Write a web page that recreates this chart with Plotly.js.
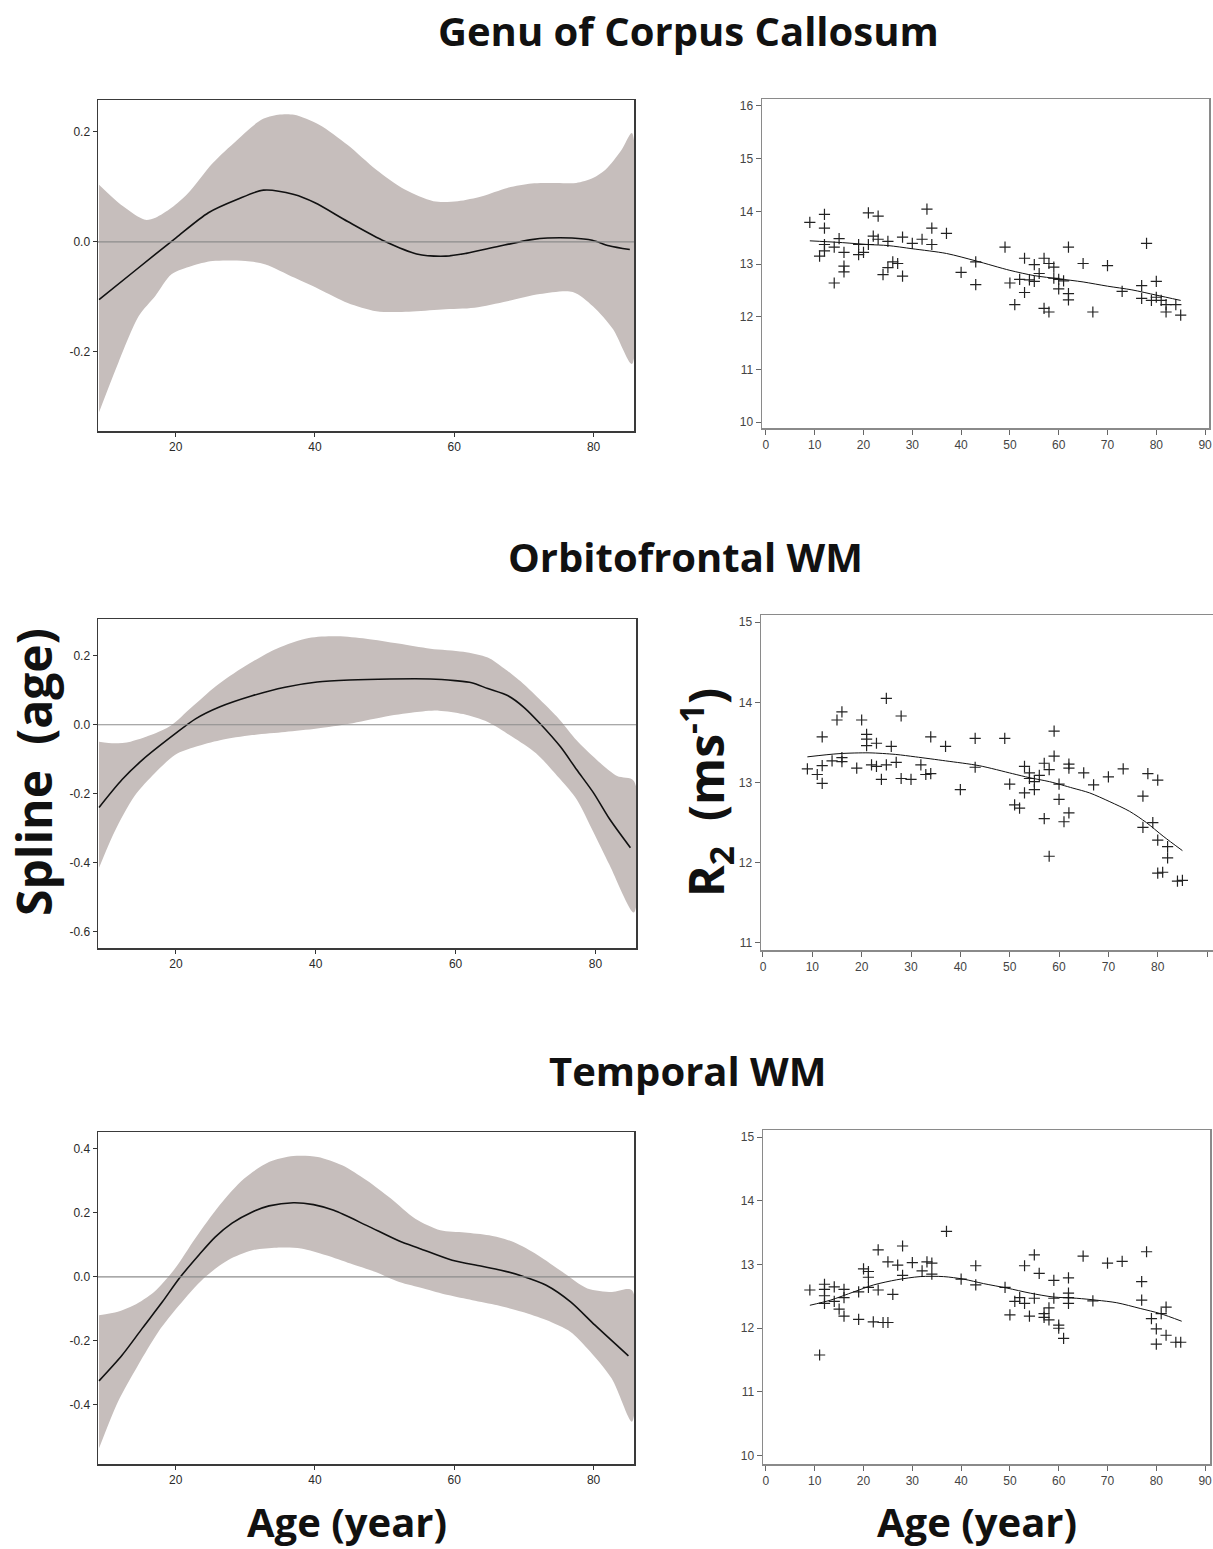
<!DOCTYPE html>
<html>
<head>
<meta charset="utf-8">
<script src="https://cdn.plot.ly/plotly-3.0.1.min.js"></script>
<style>html,body{margin:0;padding:0;background:#fff;}#chart{width:1213px;height:1549px;}</style>
</head>
<body>
<div id="chart"></div>
<script>
// ---------- Panel titles ----------
const panelTitles = ["Genu of Corpus Callosum", "Orbitofrontal WM", "Temporal WM"];
const splineTitle = "Spline  (age)";
const r2Title = "R<sub>2</sub>  (ms<sup>-1</sup>)";
const ageTitle = "Age (year)";

// ---------- Left panels: spline(age) with confidence band ----------
const genuCurveX = [9, 14.1, 20, 24.7, 28.8, 32.6, 37, 40, 44.7, 50, 54.6, 58.8, 61.7, 66.4, 71.1, 73.4, 76.9, 79.8, 82.2, 85.2];
const genuCurveY = [-0.105, -0.053, 0.007, 0.053, 0.077, 0.094, 0.086, 0.071, 0.037, 0.001, -0.022, -0.026, -0.021, -0.008, 0.004, 0.007, 0.007, 0.003, -0.007, -0.014];
const genuUpX = [9, 12.4, 15.6, 17.1, 19.4, 21.8, 25.3, 28.8, 32.3, 34.7, 37, 40.6, 44.7, 48.8, 52.9, 57, 60.5, 64, 67.6, 71.1, 74.6, 77.5, 79.9, 81.7, 84, 85.5];
const genuUpY = [0.104, 0.065, 0.040, 0.044, 0.062, 0.089, 0.143, 0.185, 0.222, 0.231, 0.231, 0.213, 0.176, 0.131, 0.095, 0.074, 0.074, 0.083, 0.098, 0.106, 0.107, 0.107, 0.116, 0.131, 0.167, 0.198];
const genuLoX = [9, 11.8, 14.7, 17.1, 19.4, 22.3, 25.3, 30, 32.9, 37, 40.6, 44.7, 48.8, 53.5, 58.2, 62.9, 67.6, 72.3, 77, 79.9, 82.8, 85.5];
const genuLoY = [-0.310, -0.219, -0.135, -0.098, -0.059, -0.044, -0.035, -0.035, -0.041, -0.065, -0.086, -0.111, -0.126, -0.127, -0.123, -0.120, -0.108, -0.095, -0.091, -0.117, -0.159, -0.222];

const orbCurveX = [9, 12.3, 15.2, 19.9, 22.8, 26.3, 30.9, 35.6, 40.2, 44.8, 50.6, 56.4, 59.9, 62.3, 64.6, 67.5, 69.8, 72.1, 75, 77.3, 79.7, 82, 85];
const orbCurveY = [-0.24, -0.159, -0.102, -0.026, 0.017, 0.052, 0.084, 0.109, 0.124, 0.130, 0.133, 0.133, 0.128, 0.122, 0.105, 0.084, 0.050, 0.003, -0.064, -0.130, -0.197, -0.273, -0.357];
const orbUpX = [9, 11.2, 13.5, 16.4, 19.3, 22.2, 25.7, 29.8, 34.4, 39, 43.1, 47.2, 51.8, 56.4, 61.1, 64.6, 66.9, 69.8, 72.7, 75, 77.3, 80.2, 83.1, 85.5];
const orbUpY = [-0.049, -0.054, -0.049, -0.030, -0.002, 0.050, 0.112, 0.169, 0.221, 0.252, 0.257, 0.250, 0.236, 0.221, 0.212, 0.195, 0.164, 0.117, 0.060, 0.012, -0.045, -0.102, -0.149, -0.163];
const orbLoX = [9, 11.2, 14.1, 17, 19.9, 22.8, 26.3, 30.9, 35.6, 40.2, 44.8, 49.5, 54.1, 57.6, 61.1, 64.6, 68.1, 71.5, 75, 77.3, 79.7, 82, 85.5];
const orbLoY = [-0.415, -0.311, -0.206, -0.140, -0.087, -0.064, -0.045, -0.030, -0.021, -0.011, 0.003, 0.022, 0.036, 0.041, 0.031, 0.008, -0.035, -0.083, -0.159, -0.216, -0.311, -0.406, -0.545];

const tempCurveX = [9, 12.3, 15.2, 18.1, 20.5, 23.4, 25.7, 28.1, 31, 33.4, 36.9, 39.8, 42.7, 47.4, 52.1, 55, 59.7, 63.8, 66.7, 69.7, 73.2, 76.7, 80.2, 85];
const tempCurveY = [-0.325, -0.245, -0.161, -0.078, -0.005, 0.070, 0.125, 0.168, 0.203, 0.222, 0.232, 0.226, 0.208, 0.161, 0.112, 0.089, 0.052, 0.034, 0.021, 0.003, -0.026, -0.078, -0.151, -0.247];
const tempUpX = [9, 11.7, 14, 16.9, 19.9, 22.8, 26.3, 29.8, 33.4, 36.9, 40.4, 43.9, 47.4, 50.9, 54.4, 58, 61.5, 65, 68.5, 72, 75.5, 79.1, 82.6, 85.5];
const tempUpY = [-0.12, -0.109, -0.089, -0.047, 0.026, 0.12, 0.224, 0.307, 0.359, 0.378, 0.375, 0.349, 0.302, 0.245, 0.182, 0.146, 0.139, 0.130, 0.109, 0.068, 0.016, -0.036, -0.047, -0.042];
const tempLoX = [9, 11.7, 14.6, 17.5, 20.5, 24, 27.5, 31, 34.5, 38, 41.6, 45.1, 48.6, 52.1, 55.6, 59.1, 62.6, 66.2, 69.7, 73.2, 76.7, 79.1, 82.6, 85.5];
const tempLoY = [-0.536, -0.391, -0.276, -0.172, -0.089, -0.005, 0.052, 0.083, 0.091, 0.089, 0.068, 0.042, 0.016, -0.016, -0.036, -0.057, -0.073, -0.089, -0.109, -0.135, -0.172, -0.224, -0.318, -0.453];

// ---------- Right panels: R2 scatter with fitted line ----------
const genuAge = [9, 11, 12, 12, 12, 12, 14, 14, 15, 16, 16, 16, 19, 19, 20, 21, 21, 22, 23, 23, 24, 25, 25, 26, 27, 28, 28, 30, 32, 33, 34, 34, 37, 40, 43, 43, 49, 50, 51, 52, 53, 53, 54, 55, 55, 56, 57, 57, 58, 58, 59, 59, 60, 60, 61, 62, 62, 62, 65, 67, 70, 73, 77, 77, 78, 79, 80, 80, 81, 82, 82, 84, 85];
const genuR2 = [13.79, 13.15, 13.94, 13.68, 13.37, 13.25, 12.64, 13.32, 13.48, 13.22, 12.96, 12.85, 13.37, 13.18, 13.22, 13.97, 13.37, 13.53, 13.47, 13.91, 12.80, 13.43, 12.93, 13.04, 13.01, 13.51, 12.77, 13.39, 13.47, 14.04, 13.68, 13.37, 13.58, 12.84, 13.04, 12.61, 13.32, 12.64, 12.23, 12.71, 13.11, 12.46, 12.70, 12.99, 12.67, 12.82, 13.11, 12.16, 13.01, 12.09, 12.94, 12.73, 12.71, 12.53, 12.68, 13.32, 12.44, 12.32, 13.01, 12.09, 12.97, 12.48, 12.59, 12.35, 13.39, 12.31, 12.67, 12.37, 12.31, 12.23, 12.09, 12.23, 12.03];
const genuFitX = [9, 15, 21, 25, 30, 37, 43, 50, 55, 60, 65, 70, 75, 80, 85];
const genuFitY = [13.44, 13.41, 13.37, 13.35, 13.29, 13.20, 13.06, 12.88, 12.78, 12.72, 12.66, 12.58, 12.51, 12.41, 12.31];

const orbAge = [9, 11, 12, 12, 12, 14, 15, 16, 16, 16, 19, 20, 21, 21, 21, 22, 23, 23, 24, 25, 25, 26, 27, 28, 28, 30, 32, 33, 34, 34, 37, 40, 43, 43, 49, 50, 51, 52, 53, 53, 54, 54, 55, 55, 56, 57, 57, 58, 58, 59, 59, 60, 60, 61, 62, 62, 62, 65, 67, 70, 73, 77, 77, 78, 79, 80, 80, 80, 81, 82, 82, 84, 85];
const orbR2 = [13.17, 13.10, 13.57, 13.21, 12.99, 13.27, 13.78, 13.88, 13.31, 13.26, 13.18, 13.78, 13.60, 13.54, 13.46, 13.22, 13.49, 13.20, 13.04, 14.05, 13.22, 13.45, 13.25, 13.83, 13.05, 13.04, 13.22, 13.10, 13.57, 13.11, 13.45, 12.91, 13.55, 13.19, 13.55, 12.98, 12.72, 12.68, 13.20, 12.87, 13.12, 13.05, 13.01, 12.91, 13.09, 13.24, 12.55, 13.16, 12.08, 13.64, 13.33, 12.98, 12.79, 12.51, 13.23, 13.18, 12.62, 13.12, 12.97, 13.07, 13.17, 12.83, 12.44, 13.11, 12.50, 13.03, 12.28, 11.87, 11.88, 12.20, 12.06, 11.77, 11.78];
const orbFitX = [9, 15.4, 21.5, 26.9, 30.9, 37, 43.8, 50.6, 54, 58.1, 62.8, 66.2, 70.3, 74.3, 77.7, 81.1, 85];
const orbFitY = [13.32, 13.36, 13.37, 13.35, 13.32, 13.27, 13.21, 13.11, 13.06, 13.01, 12.93, 12.87, 12.76, 12.64, 12.50, 12.33, 12.15];

const tempAge = [9, 11, 12, 12, 12, 12, 14, 14, 15, 16, 16, 16, 19, 19, 20, 21, 21, 21, 22, 23, 23, 24, 25, 25, 26, 27, 28, 28, 30, 32, 33, 34, 34, 37, 40, 43, 43, 49, 50, 51, 52, 53, 53, 54, 55, 55, 56, 57, 57, 58, 58, 59, 59, 60, 60, 61, 62, 62, 62, 62, 65, 67, 70, 73, 77, 77, 78, 79, 80, 80, 81, 82, 82, 84, 85];
const tempR2 = [12.60, 11.58, 12.69, 12.61, 12.51, 12.39, 12.65, 12.42, 12.30, 12.61, 12.48, 12.19, 12.57, 12.14, 12.93, 12.89, 12.80, 12.64, 12.10, 13.23, 12.60, 12.09, 12.09, 13.04, 12.53, 12.99, 13.29, 12.83, 13.03, 12.90, 13.04, 13.02, 12.85, 13.52, 12.77, 12.98, 12.68, 12.64, 12.21, 12.42, 12.48, 12.98, 12.39, 12.19, 13.15, 12.47, 12.86, 12.23, 12.17, 12.32, 12.13, 12.75, 12.47, 12.05, 12.00, 11.84, 12.79, 12.55, 12.48, 12.39, 13.13, 12.43, 13.02, 13.05, 12.73, 12.44, 13.20, 12.15, 11.99, 11.75, 12.23, 12.33, 11.89, 11.78, 11.78];
const tempFitX = [9, 13.2, 18, 22.1, 26.8, 31.6, 36.4, 40.5, 44.6, 49.4, 54.2, 58.9, 63.7, 67.8, 71.9, 76.7, 80.8, 85.2];
const tempFitY = [12.36, 12.44, 12.57, 12.68, 12.76, 12.81, 12.81, 12.77, 12.70, 12.63, 12.55, 12.49, 12.47, 12.44, 12.40, 12.31, 12.23, 12.11];

// ---------- Tick values / labels ----------
const leftXTicks = [20, 40, 60, 80];
const rightXTicks = [0, 10, 20, 30, 40, 50, 60, 70, 80, 90];
const genuLeftYTicks = [-0.2, 0, 0.2];
const genuLeftYLabels = ["-0.2", "0.0", "0.2"];
const orbLeftYTicks = [-0.6, -0.4, -0.2, 0, 0.2];
const orbLeftYLabels = ["-0.6", "-0.4", "-0.2", "0.0", "0.2"];
const tempLeftYTicks = [-0.4, -0.2, 0, 0.2, 0.4];
const tempLeftYLabels = ["-0.4", "-0.2", "0.0", "0.2", "0.4"];
const genuRightYTicks = [10, 11, 12, 13, 14, 15, 16];
const orbRightYTicks = [11, 12, 13, 14, 15];
const tempRightYTicks = [10, 11, 12, 13, 14, 15];

// ---------- Geometry helpers ----------
const W = 1213, H = 1549;
const px = v => v / W;
const py = v => 1 - v / H;

const bandColor = '#c6bebc';
const narrowFont = {family: 'Liberation Sans Narrow, Liberation Sans, Arial', size: 12, color: '#2a2a2a'};
const rightFont = {family: 'Liberation Sans, Arial', size: 12, color: '#444'};

function band(ux, uy, lx, ly, xa, ya) {
  return {
    x: ux.concat(lx.slice().reverse()),
    y: uy.concat(ly.slice().reverse()),
    xaxis: xa, yaxis: ya, type: 'scatter', mode: 'lines',
    fill: 'toself', fillcolor: bandColor,
    line: {width: 0, color: bandColor, shape: 'spline', smoothing: 0.8},
    hoverinfo: 'skip', showlegend: false
  };
}
function curve(x, y, xa, ya, w) {
  return {x: x, y: y, xaxis: xa, yaxis: ya, type: 'scatter', mode: 'lines',
    line: {color: '#111', width: w, shape: 'spline', smoothing: 0.8}, showlegend: false};
}
function pts(x, y, xa, ya) {
  return {x: x, y: y, xaxis: xa, yaxis: ya, type: 'scatter', mode: 'markers',
    marker: {symbol: 'cross-thin', size: 8, line: {width: 1.2, color: '#222'}}, showlegend: false};
}

const data = [
  band(genuUpX, genuUpY, genuLoX, genuLoY, 'x', 'y'),
  curve(genuCurveX, genuCurveY, 'x', 'y', 1.6),
  pts(genuAge, genuR2, 'x2', 'y2'),
  curve(genuFitX, genuFitY, 'x2', 'y2', 1),
  band(orbUpX, orbUpY, orbLoX, orbLoY, 'x3', 'y3'),
  curve(orbCurveX, orbCurveY, 'x3', 'y3', 1.6),
  pts(orbAge, orbR2, 'x4', 'y4'),
  curve(orbFitX, orbFitY, 'x4', 'y4', 1),
  band(tempUpX, tempUpY, tempLoX, tempLoY, 'x5', 'y5'),
  curve(tempCurveX, tempCurveY, 'x5', 'y5', 1.6),
  pts(tempAge, tempR2, 'x6', 'y6'),
  curve(tempFitX, tempFitY, 'x6', 'y6', 1)
];

function leftX(dom, anchor) {
  return {domain: dom, anchor: anchor, range: [8.85, 85.8], tickvals: leftXTicks,
    ticks: 'outside', ticklen: 4, tickcolor: '#333', showline: true, mirror: true,
    linecolor: '#3a3a3a', linewidth: 1.5, showgrid: false, zeroline: false, tickfont: narrowFont};
}
function leftY(dom, anchor, range, ticks, labels) {
  return {domain: dom, anchor: anchor, range: range, tickvals: ticks, ticktext: labels,
    ticks: 'outside', ticklen: 4, tickcolor: '#333', showline: true, mirror: true,
    linecolor: '#3a3a3a', linewidth: 1.5, showgrid: false, zeroline: false, tickfont: narrowFont};
}
function rightX(dom, anchor, range) {
  return {domain: dom, anchor: anchor, range: range, tickvals: rightXTicks,
    ticks: 'outside', ticklen: 5, tickcolor: '#666', showline: true, mirror: true,
    linecolor: '#8a8a8a', linewidth: 1.5, showgrid: false, zeroline: false, tickfont: rightFont};
}
function rightY(dom, anchor, range, ticks) {
  return {domain: dom, anchor: anchor, range: range, tickvals: ticks,
    ticks: 'outside', ticklen: 5, tickcolor: '#666', showline: true, mirror: true,
    linecolor: '#8a8a8a', linewidth: 1.5, showgrid: false, zeroline: false, tickfont: rightFont};
}

function zeroLine(xa, ya) {
  return {type: 'line', xref: xa + ' domain', yref: ya, x0: 0, x1: 1, y0: 0, y1: 0,
    layer: 'above', line: {color: '#8c8c8c', width: 1.2}};
}

const titleFont = {family: 'Open Sans', size: 40, color: '#111', weight: 700};
const yTitleFont = {family: 'Open Sans', size: 48, color: '#111', weight: 700};
const ageFont = {family: 'Open Sans', size: 40, color: '#111', weight: 700};

const layout = {
  width: W, height: H,
  margin: {l: 0, r: 0, t: 0, b: 0},
  paper_bgcolor: '#ffffff', plot_bgcolor: '#ffffff',
  showlegend: false,
  xaxis: leftX([px(98), px(634)], 'y'),
  yaxis: leftY([py(431), py(100)], 'x', [-0.344, 0.258], genuLeftYTicks, genuLeftYLabels),
  xaxis2: rightX([px(762), px(1209)], 'y2', [-0.8, 90.8]),
  yaxis2: rightY([py(428), py(99)], 'x2', [9.89, 16.13], genuRightYTicks),
  xaxis3: leftX([px(98), px(636)], 'y3'),
  yaxis3: leftY([py(948), py(619)], 'x3', [-0.648, 0.307], orbLeftYTicks, orbLeftYLabels),
  xaxis4: rightX([px(761), 1], 'y4', [-0.4, 91.2]),
  yaxis4: rightY([py(950), py(615)], 'x4', [10.91, 15.09], orbRightYTicks),
  xaxis5: leftX([px(98), px(634)], 'y5'),
  yaxis5: leftY([py(1464), py(1132)], 'x5', [-0.585, 0.453], tempLeftYTicks, tempLeftYLabels),
  xaxis6: rightX([px(763), px(1210)], 'y6', [-0.6, 91.0]),
  yaxis6: rightY([py(1464), py(1130)], 'x6', [9.87, 15.11], tempRightYTicks),
  shapes: [zeroLine('x', 'y'), zeroLine('x3', 'y3'), zeroLine('x5', 'y5')],
  annotations: [
    {text: panelTitles[0], x: px(688), y: py(30), xref: 'paper', yref: 'paper', showarrow: false, xanchor: 'center', yanchor: 'middle', font: titleFont},
    {text: panelTitles[1], x: px(686), y: py(556), xref: 'paper', yref: 'paper', showarrow: false, xanchor: 'center', yanchor: 'middle', font: titleFont},
    {text: panelTitles[2], x: px(687), y: py(1070), xref: 'paper', yref: 'paper', showarrow: false, xanchor: 'center', yanchor: 'middle', font: titleFont},
    {text: splineTitle, x: px(33), y: py(772), xref: 'paper', yref: 'paper', showarrow: false, xanchor: 'center', yanchor: 'middle', textangle: -90, font: yTitleFont},
    {text: r2Title, x: px(706), y: py(793), xref: 'paper', yref: 'paper', showarrow: false, xanchor: 'center', yanchor: 'middle', textangle: -90, font: yTitleFont},
    {text: ageTitle, x: px(347), y: py(1521), xref: 'paper', yref: 'paper', showarrow: false, xanchor: 'center', yanchor: 'middle', font: ageFont},
    {text: ageTitle, x: px(977), y: py(1521), xref: 'paper', yref: 'paper', showarrow: false, xanchor: 'center', yanchor: 'middle', font: ageFont}
  ]
};

Plotly.newPlot('chart', data, layout, {staticPlot: true, displayModeBar: false});
</script>
</body>
</html>
